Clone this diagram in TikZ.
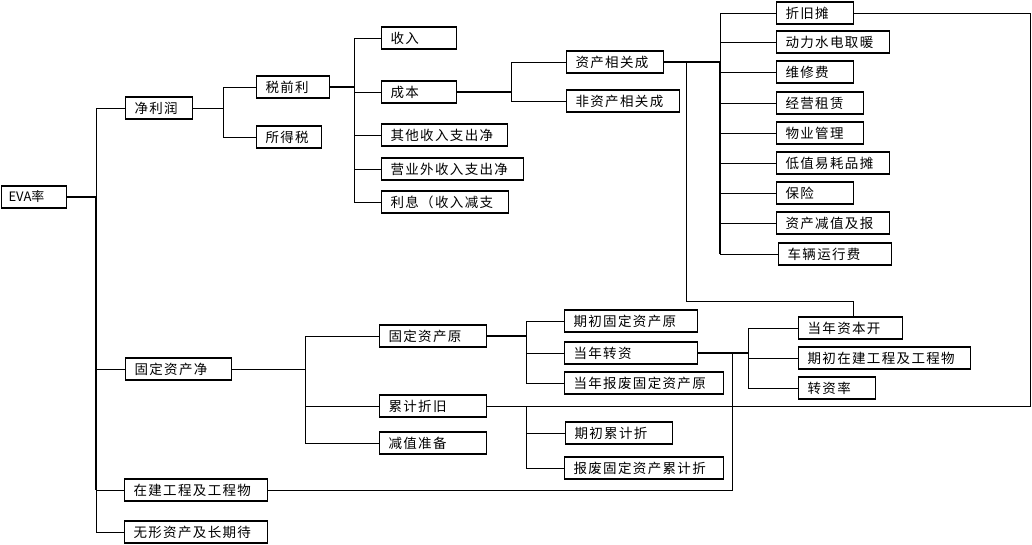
\documentclass[tikz,border=0pt]{standalone}
\usepackage{fontspec}
\newfontfamily\cjk[LetterSpace=10]{Noto Sans CJK SC}
\newfontfamily\cjkplain{Noto Sans CJK SC}
\newcommand\bx[5]{\pgfmathsetlengthmacro\tw{#3-#2-18}\node[box,text width=\tw] (#1) at (#2,#4) {#5};}
\begin{document}
\begin{tikzpicture}[x=1pt,y=-1pt,
  box/.style={draw, line width=1.1pt, anchor=west, inner xsep=9pt, inner ysep=2pt, minimum height=22pt, align=left, font=\cjk\fontsize{13.5}{15}\selectfont},
  ln/.style={line width=0.9pt},
  tk/.style={line width=1.8pt}]
\useasboundingbox (0,0) rectangle (1032,544);
% nodes
\pgfmathsetlengthmacro\tw{66-1-14}
\node[box,inner xsep=7pt,text width=\tw,font=\cjkplain\fontsize{13}{15}\selectfont] (eva) at (1,197) {EVA率};
\bx{jlr}{125}{192}{108}{净利润}
\bx{sql}{256}{329}{87}{税前利}
\bx{sds}{256}{321}{137}{所得税}
\bx{sr}{381}{456}{38}{收入}
\bx{cb}{381}{456}{92}{成本}
\bx{qt}{381}{507}{135}{其他收入支出净}
\bx{yyw}{381}{523}{169}{营业外收入支出净}
\bx{lx}{381}{508}{202}{利息（收入减支}
\bx{zc}{566}{663}{62}{资产相关成}
\bx{fzc}{566}{679}{101}{非资产相关成}
\bx{zj}{776}{853}{13}{折旧摊}
\bx{dl}{776}{889}{42}{动力水电取暖}
\bx{wx}{776}{853}{72}{维修费}
\bx{jy}{776}{863}{103}{经营租赁}
\bx{wy}{776}{863}{133}{物业管理}
\bx{dz}{776}{889}{163}{低值易耗品摊}
\bx{bx}{776}{853}{193}{保险}
\bx{jz}{776}{889}{223}{资产减值及报}
\bx{cl}{778}{891}{254}{车辆运行费}
\bx{gdj}{125}{231}{369}{固定资产净}
\bx{gdy}{379}{486}{336}{固定资产原}
\bx{ljzj}{379}{486}{406}{累计折旧}
\bx{jzzb}{379}{486}{443}{减值准备}
\bx{qcgd}{564}{697}{321}{期初固定资产原}
\bx{dnzz}{564}{697}{353}{当年转资}
\bx{dnbf}{564}{723}{383}{当年报废固定资产原}
\bx{qclj}{565}{672}{433}{期初累计折}
\bx{bflj}{564}{723}{468}{报废固定资产累计折}
\bx{dnzb}{798}{902}{328}{当年资本开}
\bx{qczj}{798}{970}{358}{期初在建工程及工程物}
\bx{zzl}{798}{875}{388}{转资率}
\bx{zjgc}{124}{267}{490}{在建工程及工程物}
\bx{wxzc}{124}{267}{532}{无形资产及长期待}
% bus coordinates
\coordinate (b1) at (96,0);
\coordinate (b2) at (223,0);
\coordinate (b3) at (354,0);
\coordinate (b4) at (511,0);
\coordinate (b5) at (720,0);
\coordinate (b6) at (686,0);
\coordinate (b7) at (1030,0);
\coordinate (b8) at (305,0);
\coordinate (b9) at (526,0);
\coordinate (b11) at (748,0);
\coordinate (b12) at (732,0);
% connectors
\draw[tk] (eva.east) -- (eva.east -| b1) -- (zjgc.west -| b1);
\draw[ln] (jlr.west) -- (jlr.west -| b1) -- (wxzc.west -| b1) -- (wxzc.west);
\draw[ln] (gdj.west) -- (gdj.west -| b1);
\draw[ln] (zjgc.west) -- (zjgc.west -| b1);
\draw[ln] (jlr.east) -- (jlr.east -| b2);
\draw[ln] (sql.west) -- (sql.west -| b2) -- (sds.west -| b2) -- (sds.west);
\draw[tk] (sql.east) -- (sql.east -| b3);
\draw[ln] (sr.west) -- (sr.west -| b3) -- (lx.west -| b3) -- (lx.west);
\foreach \n in {cb,qt,yyw} \draw[ln] (\n.west) -- (\n.west -| b3);
\draw[tk] (cb.east) -- (cb.east -| b4);
\draw[ln] (zc.west) -- (zc.west -| b4) -- (fzc.west -| b4) -- (fzc.west);
\draw[tk] (zc.east) -- (zc.east -| b5) -- (cl.west -| b5);
\draw[ln] (zj.west) -- (zj.west -| b5) -- (zc.east -| b5);
\foreach \n in {dl,wx,jy,wy,dz,bx,jz,cl} \draw[ln] (\n.west) -- (\n.west -| b5);
\draw[ln] ([xshift=3pt]dnzb.north) -- ++(0,-15) -| (zc.east -| b6);
\draw[ln] (zj.east) -- (zj.east -| b7) |- (ljzj.east);
\draw[ln] (gdj.east) -- (gdj.east -| b8);
\draw[ln] (gdy.west) -- (gdy.west -| b8) -- (jzzb.west -| b8) -- (jzzb.west);
\draw[ln] (ljzj.west) -- (ljzj.west -| b8);
\draw[tk] (gdy.east) -- (gdy.east -| b9);
\draw[ln] (qcgd.west) -- (qcgd.west -| b9) -- (dnbf.west -| b9) -- (dnbf.west);
\draw[ln] (dnzz.west) -- (dnzz.west -| b9);
\draw[ln] (ljzj.east -| b9) -- (bflj.west -| b9) -- (bflj.west);
\draw[ln] (qclj.west) -- (qclj.west -| b9);
\draw[tk] (dnzz.east) -- (dnzz.east -| b11);
\draw[ln] (dnzb.west) -- (dnzb.west -| b11) -- (zzl.west -| b11) -- (zzl.west);
\draw[ln] (qczj.west) -- (qczj.west -| b11);
\draw[ln] (zjgc.east) -| (dnzz.east -| b12);
\end{tikzpicture}
\end{document}
